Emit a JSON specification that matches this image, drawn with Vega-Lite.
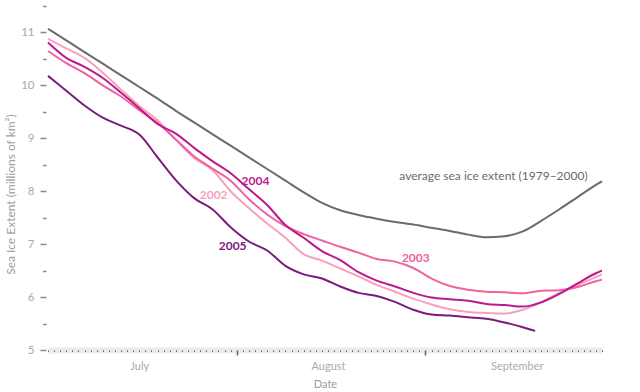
{
  "$schema": "https://vega.github.io/schema/vega-lite/v6.json",
  "width": 554,
  "height": 344,
  "autosize": "none",
  "padding": {"left": 48, "top": 6, "right": 38, "bottom": 42},
  "background": "white",
  "config": {"view": {"stroke": null}, "font": "Lato"},
  "datasets": {
    "lines": [
      {"series":"avg","date":"2005-07-01","value":11.07},{"series":"avg","date":"2005-07-04","value":10.85},{"series":"avg","date":"2005-07-07","value":10.63},{"series":"avg","date":"2005-07-10","value":10.41},{"series":"avg","date":"2005-07-13","value":10.19},{"series":"avg","date":"2005-07-16","value":9.97},{"series":"avg","date":"2005-07-19","value":9.75},{"series":"avg","date":"2005-07-22","value":9.52},{"series":"avg","date":"2005-07-25","value":9.30},{"series":"avg","date":"2005-07-28","value":9.08},{"series":"avg","date":"2005-07-31","value":8.86},{"series":"avg","date":"2005-08-03","value":8.64},{"series":"avg","date":"2005-08-06","value":8.42},{"series":"avg","date":"2005-08-09","value":8.20},{"series":"avg","date":"2005-08-12","value":7.98},{"series":"avg","date":"2005-08-15","value":7.78},{"series":"avg","date":"2005-08-18","value":7.64},{"series":"avg","date":"2005-08-21","value":7.55},{"series":"avg","date":"2005-08-24","value":7.48},{"series":"avg","date":"2005-08-27","value":7.42},{"series":"avg","date":"2005-08-30","value":7.37},{"series":"avg","date":"2005-09-02","value":7.31},{"series":"avg","date":"2005-09-05","value":7.25},{"series":"avg","date":"2005-09-08","value":7.18},{"series":"avg","date":"2005-09-11","value":7.13},{"series":"avg","date":"2005-09-14","value":7.15},{"series":"avg","date":"2005-09-17","value":7.24},{"series":"avg","date":"2005-09-20","value":7.44},{"series":"avg","date":"2005-09-23","value":7.66},{"series":"avg","date":"2005-09-26","value":7.89},{"series":"avg","date":"2005-09-29","value":8.12},{"series":"avg","date":"2005-09-30","value":8.19},
      {"series":"2002","date":"2005-07-01","value":10.88},{"series":"2002","date":"2005-07-04","value":10.70},{"series":"2002","date":"2005-07-07","value":10.52},{"series":"2002","date":"2005-07-10","value":10.24},{"series":"2002","date":"2005-07-13","value":9.92},{"series":"2002","date":"2005-07-16","value":9.61},{"series":"2002","date":"2005-07-19","value":9.34},{"series":"2002","date":"2005-07-22","value":8.97},{"series":"2002","date":"2005-07-25","value":8.63},{"series":"2002","date":"2005-07-28","value":8.40},{"series":"2002","date":"2005-07-31","value":8.00},{"series":"2002","date":"2005-08-03","value":7.68},{"series":"2002","date":"2005-08-06","value":7.39},{"series":"2002","date":"2005-08-09","value":7.12},{"series":"2002","date":"2005-08-12","value":6.81},{"series":"2002","date":"2005-08-15","value":6.69},{"series":"2002","date":"2005-08-18","value":6.54},{"series":"2002","date":"2005-08-21","value":6.39},{"series":"2002","date":"2005-08-24","value":6.23},{"series":"2002","date":"2005-08-27","value":6.10},{"series":"2002","date":"2005-08-30","value":5.97},{"series":"2002","date":"2005-09-02","value":5.86},{"series":"2002","date":"2005-09-05","value":5.77},{"series":"2002","date":"2005-09-08","value":5.72},{"series":"2002","date":"2005-09-11","value":5.70},{"series":"2002","date":"2005-09-14","value":5.69},{"series":"2002","date":"2005-09-17","value":5.76},{"series":"2002","date":"2005-09-20","value":5.90},{"series":"2002","date":"2005-09-23","value":6.08},{"series":"2002","date":"2005-09-26","value":6.23},{"series":"2002","date":"2005-09-29","value":6.38},{"series":"2002","date":"2005-09-30","value":6.43},
      {"series":"2003","date":"2005-07-01","value":10.65},{"series":"2003","date":"2005-07-04","value":10.42},{"series":"2003","date":"2005-07-07","value":10.23},{"series":"2003","date":"2005-07-10","value":10.00},{"series":"2003","date":"2005-07-13","value":9.79},{"series":"2003","date":"2005-07-16","value":9.53},{"series":"2003","date":"2005-07-19","value":9.29},{"series":"2003","date":"2005-07-22","value":8.98},{"series":"2003","date":"2005-07-25","value":8.66},{"series":"2003","date":"2005-07-28","value":8.43},{"series":"2003","date":"2005-07-31","value":8.20},{"series":"2003","date":"2005-08-03","value":7.85},{"series":"2003","date":"2005-08-06","value":7.56},{"series":"2003","date":"2005-08-09","value":7.34},{"series":"2003","date":"2005-08-12","value":7.19},{"series":"2003","date":"2005-08-15","value":7.07},{"series":"2003","date":"2005-08-18","value":6.95},{"series":"2003","date":"2005-08-21","value":6.84},{"series":"2003","date":"2005-08-24","value":6.72},{"series":"2003","date":"2005-08-27","value":6.67},{"series":"2003","date":"2005-08-30","value":6.55},{"series":"2003","date":"2005-09-02","value":6.35},{"series":"2003","date":"2005-09-05","value":6.21},{"series":"2003","date":"2005-09-08","value":6.14},{"series":"2003","date":"2005-09-11","value":6.10},{"series":"2003","date":"2005-09-14","value":6.09},{"series":"2003","date":"2005-09-17","value":6.07},{"series":"2003","date":"2005-09-20","value":6.12},{"series":"2003","date":"2005-09-23","value":6.13},{"series":"2003","date":"2005-09-26","value":6.19},{"series":"2003","date":"2005-09-29","value":6.30},{"series":"2003","date":"2005-09-30","value":6.33},
      {"series":"2004","date":"2005-07-01","value":10.81},{"series":"2004","date":"2005-07-04","value":10.52},{"series":"2004","date":"2005-07-07","value":10.35},{"series":"2004","date":"2005-07-10","value":10.14},{"series":"2004","date":"2005-07-13","value":9.86},{"series":"2004","date":"2005-07-16","value":9.57},{"series":"2004","date":"2005-07-19","value":9.27},{"series":"2004","date":"2005-07-22","value":9.09},{"series":"2004","date":"2005-07-25","value":8.82},{"series":"2004","date":"2005-07-28","value":8.57},{"series":"2004","date":"2005-07-31","value":8.34},{"series":"2004","date":"2005-08-03","value":8.04},{"series":"2004","date":"2005-08-06","value":7.74},{"series":"2004","date":"2005-08-09","value":7.36},{"series":"2004","date":"2005-08-12","value":7.12},{"series":"2004","date":"2005-08-15","value":6.87},{"series":"2004","date":"2005-08-18","value":6.70},{"series":"2004","date":"2005-08-21","value":6.47},{"series":"2004","date":"2005-08-24","value":6.31},{"series":"2004","date":"2005-08-27","value":6.20},{"series":"2004","date":"2005-08-30","value":6.08},{"series":"2004","date":"2005-09-02","value":5.99},{"series":"2004","date":"2005-09-05","value":5.96},{"series":"2004","date":"2005-09-08","value":5.93},{"series":"2004","date":"2005-09-11","value":5.87},{"series":"2004","date":"2005-09-14","value":5.85},{"series":"2004","date":"2005-09-17","value":5.82},{"series":"2004","date":"2005-09-20","value":5.90},{"series":"2004","date":"2005-09-23","value":6.06},{"series":"2004","date":"2005-09-26","value":6.26},{"series":"2004","date":"2005-09-29","value":6.45},{"series":"2004","date":"2005-09-30","value":6.50},
      {"series":"2005","date":"2005-07-01","value":10.18},{"series":"2005","date":"2005-07-04","value":9.90},{"series":"2005","date":"2005-07-07","value":9.62},{"series":"2005","date":"2005-07-10","value":9.39},{"series":"2005","date":"2005-07-13","value":9.24},{"series":"2005","date":"2005-07-16","value":9.07},{"series":"2005","date":"2005-07-19","value":8.64},{"series":"2005","date":"2005-07-22","value":8.21},{"series":"2005","date":"2005-07-25","value":7.87},{"series":"2005","date":"2005-07-28","value":7.66},{"series":"2005","date":"2005-07-31","value":7.32},{"series":"2005","date":"2005-08-03","value":7.05},{"series":"2005","date":"2005-08-06","value":6.88},{"series":"2005","date":"2005-08-09","value":6.59},{"series":"2005","date":"2005-08-12","value":6.43},{"series":"2005","date":"2005-08-15","value":6.35},{"series":"2005","date":"2005-08-18","value":6.20},{"series":"2005","date":"2005-08-21","value":6.08},{"series":"2005","date":"2005-08-24","value":6.02},{"series":"2005","date":"2005-08-27","value":5.91},{"series":"2005","date":"2005-08-30","value":5.76},{"series":"2005","date":"2005-09-02","value":5.67},{"series":"2005","date":"2005-09-05","value":5.65},{"series":"2005","date":"2005-09-08","value":5.62},{"series":"2005","date":"2005-09-11","value":5.59},{"series":"2005","date":"2005-09-14","value":5.52},{"series":"2005","date":"2005-09-17","value":5.43},{"series":"2005","date":"2005-09-19","value":5.36}
    ],
    "labels": [
      {"series":"2004","label":"2004","date":"2005-08-04T02:00:00Z","value":8.20},
      {"series":"2002","label":"2002","date":"2005-07-28T05:00:00Z","value":7.92},
      {"series":"2005","label":"2005","date":"2005-07-31T08:00:00Z","value":6.96},
      {"series":"2003","label":"2003","date":"2005-08-30T10:00:00Z","value":6.73},
      {"series":"avg","label":"average sea ice extent (1979–2000)","date":"2005-08-27T17:00:00Z","value":8.29}
    ]
  },
  "encoding": {
    "x": {
      "field": "date",
      "type": "temporal",
      "scale": {"type": "utc", "domain": [{"year": 2005, "month": 7, "date": 1, "utc": true}, {"year": 2005, "month": 9, "date": 30, "utc": true}]},
      "axis": {
        "zindex": 1,
        "tickCount": {"interval": "day", "step": 1},
        "labelExpr": "utcdate(datum.value) == 16 ? utcFormat(datum.value, '%B') : ''",
        "labelOverlap": false,
        "labelFlush": false,
        "labelBound": false,
        "grid": false,
        "tickSize": {"condition": {"test": "utcdate(datum.value) == 1 && utcmonth(datum.value) > 6", "value": 5}, "value": 1.5},
        "tickWidth": {"condition": {"test": "utcdate(datum.value) == 1 && utcmonth(datum.value) > 6", "value": 1.5}, "value": 1},
        "tickColor": "#5e5e5e",
        "domain": false,
        "offset": 0,
        "labelColor": "#aaaaaa",
        "labelFontSize": 11,
        "labelPadding": 8.5,
        "title": "Date",
        "titleColor": "#999999",
        "titleFontSize": 11,
        "titleFontWeight": "normal",
        "titlePadding": 4
      }
    },
    "y": {
      "field": "value",
      "type": "quantitative",
      "scale": {"domain": [5, 11.5], "nice": false, "zero": false},
      "axis": {
        "values": [5, 5.5, 6, 6.5, 7, 7.5, 8, 8.5, 9, 9.5, 10, 10.5, 11, 11.5],
        "labelExpr": "datum.value % 1 == 0 ? format(datum.value, 'd') : ''",
        "domain": false,
        "grid": true,
        "gridColor": "#ebebeb",
        "gridWidth": 6,
        "gridOpacity": {"condition": {"test": "datum.value == 5", "value": 1}, "value": 0},
        "offset": 2,
        "tickSize": {"condition": {"test": "datum.value % 1 == 0", "value": 6}, "value": 3.5},
        "tickWidth": 1.5,
        "tickColor": "#8a8a8a",
        "labelColor": "#aaaaaa",
        "labelFontSize": 11.5,
        "labelPadding": 6,
        "title": "Sea Ice Extent (millions of km²)",
        "titleColor": "#a0a0a0",
        "titleFontSize": 12,
        "titleFontWeight": "normal",
        "titlePadding": 3,
        "titleY": 188
      }
    }
  },
  "layer": [
    {
      "data": {"name": "lines"},
      "mark": {"type": "line", "strokeWidth": 2, "interpolate": "monotone"},
      "encoding": {
        "color": {
          "field": "series",
          "type": "nominal",
          "scale": {"domain": ["avg", "2002", "2003", "2004", "2005"], "range": ["#6b6b6b", "#f8a1bd", "#f0619f", "#bb1a8d", "#7b1b7e"]},
          "legend": null
        },
        "detail": {"field": "series"}
      }
    },
    {
      "data": {"name": "labels"},
      "transform": [{"filter": "datum.series != 'avg'"}],
      "mark": {"type": "text", "fontWeight": "bold", "fontSize": 12, "align": "center", "baseline": "middle"},
      "encoding": {
        "text": {"field": "label"},
        "color": {"field": "series", "type": "nominal", "legend": null}
      }
    },
    {
      "data": {"name": "labels"},
      "transform": [{"filter": "datum.series == 'avg'"}],
      "mark": {"type": "text", "fontSize": 12, "align": "left", "baseline": "middle", "color": "#6b6b6b"},
      "encoding": {
        "text": {"field": "label"}
      }
    }
  ]
}
